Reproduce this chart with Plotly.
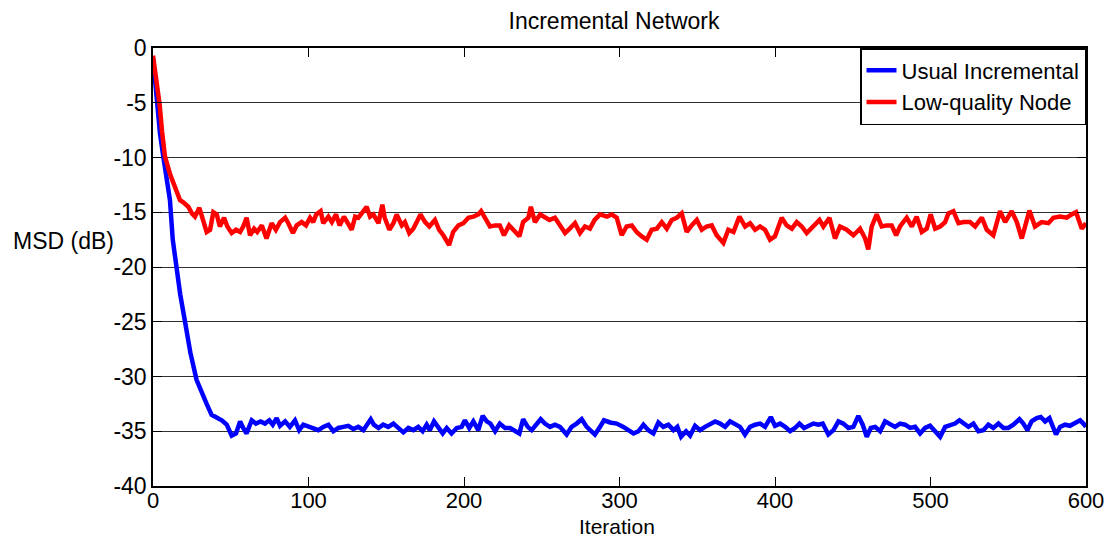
import plotly.graph_objects as go

# ---- data ----
iter_usual = [0, 2.4, 4.5, 6.6, 8.8, 10.9, 12.7, 14.8, 17.5, 20.6, 24, 28, 31.3, 34.5, 37.7,
              41, 44.2, 47.4, 50.6, 53.4, 56, 58, 60.2, 63.5, 66.2, 69.2, 72, 74.8, 77, 79.5,
              81.7, 85, 88, 91.3, 94, 96.7, 100, 103, 106.3, 109.5, 112.8, 116, 119.2, 122.4,
              125.6, 128.8, 132, 135.3, 137.8, 140, 142, 145, 148, 151.3, 154.6, 157.8, 161,
              164.2, 167.4, 170.6, 173.4, 176, 178, 180.7, 183.5, 186.3, 188.9, 192, 195.3,
              198.5, 200.6, 203.4, 206, 209.2, 212, 214.6, 217, 220, 223, 226.4, 229.6, 232.8,
              235.6, 238, 241, 243.5, 246.7, 249.3, 252, 255.3, 258.5, 261.7, 266, 269.2,
              272.4, 275.7, 278.9, 281.5, 284.2, 287.5, 290, 294, 298.2, 302.5, 305.7, 309,
              312.2, 315.4, 318.6, 321.8, 325, 328.2, 331.4, 334.7, 337.2, 339.6, 342.8, 345.4,
              348.6, 351.8, 355, 358.2, 361.5, 364.7, 367.9, 371.1, 374.3, 377.5, 380.7, 384,
              387.2, 390.4, 393.6, 397.3, 400, 403.3, 406.5, 409.7, 412.9, 415.7, 418.7, 421.5,
              424.7, 427.9, 430.7, 434.3, 437.6, 440.8, 444, 447.2, 450.4, 453.6, 456.4, 459,
              461.6, 464.4, 467.6, 470.8, 474, 477.2, 480.4, 483.6, 486.9, 490.1, 493.3, 496.5,
              499.7, 503, 506.2, 509.4, 512.6, 515.8, 518.6, 521.2, 524.4, 527.6, 530.8, 534,
              537.2, 540.4, 543.7, 546.9, 550, 553.3, 557.2, 559.7, 562.3, 565, 568.3, 570.9,
              573.7, 576.5, 579, 580.7, 583.3, 586.5, 589.7, 592.9, 596.2, 598.3, 600]
msd_usual = [-0.9, -5.0, -7.8, -9.9, -12.0, -13.9, -17.5, -20.0, -22.5, -25.0, -27.8, -30.3,
             -31.3, -32.5, -33.5, -33.7, -34.0, -34.4, -35.4, -35.2, -34.1, -34.7, -35.2,
             -34.0, -34.3, -34.1, -34.3, -34.0, -34.4, -33.8, -34.5, -34.1, -34.6, -34.0,
             -34.9, -34.4, -34.6, -34.7, -34.9, -34.6, -34.4, -35.0, -34.7, -34.6, -34.5,
             -34.8, -34.6, -34.9, -34.3, -33.9, -34.4, -34.7, -34.4, -34.6, -34.3, -34.7,
             -35.1, -34.7, -34.9, -34.6, -35.0, -34.4, -34.9, -34.1, -34.6, -35.2, -34.7,
             -35.2, -34.7, -34.6, -34.0, -34.7, -34.1, -34.9, -33.6, -34.1, -34.3, -35.0,
             -34.3, -34.7, -34.7, -35.0, -35.2, -33.9, -34.6, -34.9, -34.3, -33.9, -34.3,
             -34.6, -34.4, -34.6, -35.3, -34.6, -34.3, -33.9, -34.6, -34.9, -35.3, -34.6,
             -34.0, -34.2, -34.3, -34.6, -34.9, -35.2, -35.0, -34.4, -34.9, -35.2, -34.2,
             -34.6, -34.4, -34.9, -34.6, -35.5, -35.0, -35.4, -34.5, -34.9, -34.6, -34.3,
             -34.1, -34.3, -34.6, -34.1, -34.3, -34.6, -35.3, -34.6, -34.4, -34.3, -34.6,
             -33.7, -34.5, -34.3, -34.6, -35.0, -34.7, -34.3, -34.7, -34.5, -34.3, -34.4,
             -34.3, -35.3, -34.9, -34.1, -34.3, -34.7, -34.6, -33.6, -34.4, -35.5, -34.7,
             -34.6, -35.0, -34.1, -34.4, -34.6, -34.3, -34.4, -34.7, -34.6, -35.2, -34.7,
             -34.5, -35.0, -35.5, -34.6, -34.4, -34.3, -34.0, -34.3, -34.6, -34.3, -35.0,
             -34.9, -34.4, -34.7, -34.3, -34.7, -34.7, -34.4, -33.9, -34.3, -34.9, -34.1,
             -33.8, -33.7, -34.1, -33.8, -34.6, -35.3, -34.6, -34.4, -34.5, -34.3, -34.0,
             -34.3, -34.6]

iter_lowq = [0, 2.4, 4.3, 5.8, 7.7, 10.9, 14.1, 17.4, 19.5, 22.7, 25, 27, 29.8, 32.4, 34.5,
             36.7, 38.8, 41, 43, 45.7, 47.8, 50.6, 53.4, 56, 58, 60.2, 62.4, 65, 67, 70, 73,
             76.3, 79, 81.7, 85, 87, 90, 92.4, 95.6, 98.4, 101, 103, 105, 107.8, 109.5, 112.8,
             115, 117.7, 120, 122.8, 125.6, 127.8, 130, 132, 134.2, 137.4, 139.6, 141.7, 145,
             147.5, 149, 152, 154.6, 156.7, 160, 162, 164.8, 167.4, 169.6, 172, 175, 177.7,
             181.3, 184, 186.7, 190.4, 193, 196.4, 199.6, 202.8, 206, 209.2, 211, 213.5,
             216.7, 220, 223, 225.7, 229, 231.7, 235.6, 238, 241.4, 243, 245.6, 249, 252, 255,
             258.5, 261.7, 265, 268, 271.4, 274.6, 277.8, 281, 284, 287.5, 291.8, 295, 298.2,
             301.4, 304.6, 307.9, 311, 314.3, 317.5, 320.7, 324, 327.2, 330.4, 333.6, 336.8,
             340, 343.2, 346.4, 349.7, 352.9, 356, 359.3, 362.5, 366.8, 370, 373.3, 377.1,
             380.8, 384, 387.2, 390.4, 393.6, 396.8, 400, 404.3, 407.5, 410.8, 414, 417.2,
             420.4, 424.7, 428.6, 431.1, 435, 438.6, 441.8, 446.1, 450.4, 454.7, 458, 460,
             462.2, 465.4, 468.6, 471.8, 475, 477.9, 480.4, 484.7, 488, 491.1, 494.4, 497.6,
             500.1, 503, 506.2, 509.4, 511.5, 514.7, 518, 521.2, 525.4, 528.7, 533, 536.2,
             540.4, 544.7, 548, 552.2, 555.5, 558.7, 563.6, 567.2, 571.5, 575.8, 579, 583.3,
             587.6, 590.8, 593.6, 597.3, 600]
msd_lowq = [-0.7, -3.2, -5.2, -7.6, -9.9, -11.5, -12.8, -13.9, -14.1, -14.5, -15.1, -15.4,
            -14.6, -15.7, -16.8, -16.6, -15.0, -15.2, -16.3, -15.5, -16.3, -16.9, -16.6,
            -16.8, -16.3, -15.5, -17.1, -16.5, -16.8, -16.2, -17.4, -16.0, -16.6, -15.9,
            -15.5, -16.0, -16.9, -16.2, -15.9, -16.2, -15.5, -15.9, -15.2, -14.9, -16.0,
            -15.4, -15.9, -15.2, -16.2, -15.4, -16.0, -16.6, -15.4, -15.5, -15.1, -14.5,
            -15.4, -15.2, -16.0, -14.3, -15.5, -16.6, -16.0, -15.2, -16.2, -15.9, -16.9,
            -16.5, -15.9, -15.2, -15.9, -16.3, -15.7, -16.6, -17.1, -18.0, -16.8, -16.2,
            -16.0, -15.5, -15.4, -15.2, -14.9, -15.5, -16.3, -16.2, -16.2, -17.1, -16.2,
            -16.6, -17.2, -15.9, -15.5, -14.5, -15.9, -15.2, -15.4, -15.7, -15.5, -16.2,
            -16.9, -16.5, -16.0, -16.9, -16.3, -16.5, -15.7, -15.2, -15.4, -15.2, -15.5,
            -17.1, -16.3, -16.2, -16.8, -17.2, -17.5, -16.6, -16.5, -15.9, -16.5, -15.7,
            -15.5, -15.1, -16.8, -16.2, -15.7, -16.6, -16.3, -16.2, -17.1, -17.8, -16.6,
            -16.8, -15.4, -16.3, -16.0, -16.6, -16.3, -16.6, -17.5, -17.2, -15.5, -16.2,
            -16.5, -15.9, -16.3, -16.9, -16.3, -15.7, -16.3, -15.5, -17.4, -16.3, -16.6,
            -17.1, -16.5, -17.4, -18.4, -16.3, -15.2, -16.3, -16.2, -16.2, -17.1, -16.3,
            -15.5, -16.3, -15.4, -16.8, -16.5, -15.2, -16.5, -16.3, -15.9, -15.1, -14.9,
            -16.0, -15.9, -15.9, -16.3, -15.5, -16.6, -17.1, -14.9, -15.9, -14.9, -15.9,
            -17.4, -14.85, -16.3, -15.9, -16.0, -15.5, -15.4, -15.5, -15.2, -15.0, -16.5,
            -16.0]

series_names = ["Usual Incremental", "Low-quality Node"]
x_ticks = [0, 100, 200, 300, 400, 500, 600]
y_ticks = [0, -5, -10, -15, -20, -25, -30, -35, -40]
y_tick_labels = ["0", "-5", "-10", "-15", "-20", "-25", "-30", "-35", "-40"]

FONT = "Liberation Sans, Arial, Helvetica, sans-serif"
FS = 23

fig = go.Figure()
fig.add_trace(go.Scatter(x=iter_usual, y=msd_usual, mode="lines", name=series_names[0],
                         line=dict(color="#0000FF", width=4.5)))
fig.add_trace(go.Scatter(x=iter_lowq, y=msd_lowq, mode="lines", name=series_names[1],
                         line=dict(color="#FF0000", width=4.5)))

axis_common = dict(showline=True, linecolor="black", linewidth=1.5, mirror="ticks",
                   ticks="inside", ticklen=9, tickcolor="black", tickwidth=1,
                   zeroline=False, automargin=False)

fig.update_xaxes(range=[0, 600], tickvals=x_ticks, showgrid=False,
                 ticklabelstandoff=-6,
                 tickfont=dict(family=FONT, size=22, color="black"), **axis_common)
fig.update_yaxes(range=[-40, 0], tickvals=y_ticks, ticktext=y_tick_labels,
                 showgrid=True, gridcolor="#303030", gridwidth=1,
                 tickfont=dict(family=FONT, size=FS, color="black"), **axis_common)

fig.update_layout(
    width=1109, height=538,
    margin=dict(l=153, r=23, t=48, b=52, autoexpand=False),
    paper_bgcolor="white", plot_bgcolor="white",
    font=dict(family=FONT, size=FS, color="black"),
    title=dict(text="Incremental Network", x=614 / 1109, xanchor="center",
               y=1 - 21 / 538, yanchor="middle", yref="container",
               font=dict(family=FONT, size=FS, color="black")),
    showlegend=True,
    legend=dict(x=1, xanchor="right", y=1, yanchor="top",
                bgcolor="white", bordercolor="black", borderwidth=1.5,
                font=dict(family=FONT, size=22, color="black"),
                tracegroupgap=0, itemwidth=30),
    annotations=[
        dict(text="MSD (dB)", xref="paper", yref="paper", x=(11 - 153) / 933,
             xanchor="left", y=(486 - 241) / 438, yanchor="middle", showarrow=False,
             font=dict(family=FONT, size=FS, color="black")),
        dict(text="Iteration", xref="paper", yref="paper", x=(617 - 153) / 933,
             xanchor="center", y=(486 - 526) / 438, yanchor="middle", showarrow=False,
             font=dict(family=FONT, size=21, color="black")),
    ],
)

fig.write_html("out.html")
